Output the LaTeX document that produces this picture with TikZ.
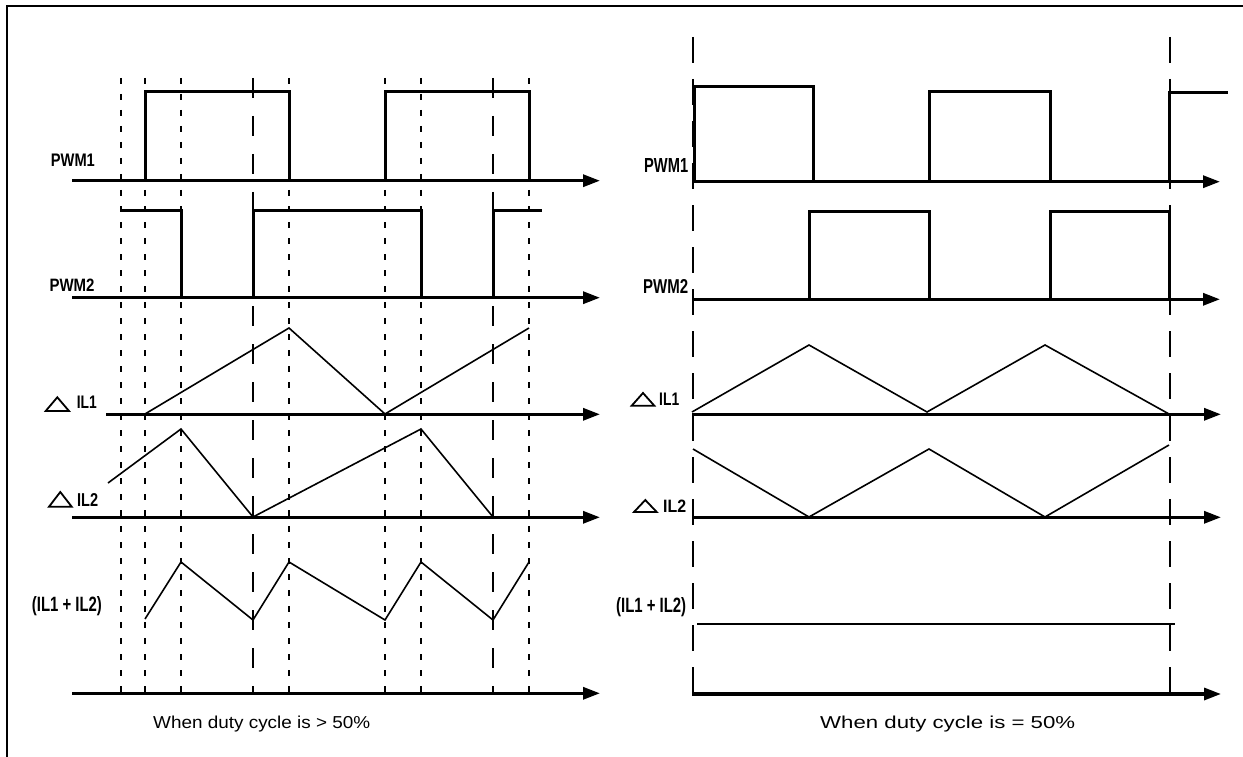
\documentclass[tikz,border=0pt]{standalone}
\usepackage{fontspec}
\setmainfont{Liberation Sans}
\usetikzlibrary{arrows.meta}
\begin{document}
\begin{tikzpicture}[x=1pt,y=-1pt,
  axis/.style={line width=3.2pt,-{Triangle[length=17pt,width=12pt]}},
  pulse/.style={line width=3pt,line join=miter},
  wave/.style={line width=1.6pt},
  shortdash/.style={line width=2.6pt,dash pattern=on 6pt off 10pt},
  longdash/.style={line width=2.6pt,dash pattern=on 20pt off 18pt},
  rdash/.style={line width=2pt,dash pattern=on 26pt off 16pt},
  lbl/.style={inner sep=0pt,anchor=base west,font=\bfseries},
  captext/.style={inner sep=0pt,anchor=base west},
  tri/.style={line width=1.8pt,line join=miter}]
\useasboundingbox (0,0) rectangle (1243,757);
% frame
\draw[line width=2.8pt] (7,757) -- (7,6) -- (1243,6);

% ---------------- left panel ----------------
\foreach \x in {121,145,181,289,385,421,529}
  \draw[shortdash] (\x,78) -- (\x,693);
\foreach \x in {253,493}
  \draw[longdash] (\x,78) -- (\x,693);

\coordinate (a1s) at (72,180.7);   \coordinate (a1e) at (600,180.7);
\coordinate (a2s) at (72,297.7);   \coordinate (a2e) at (600,297.7);
\coordinate (a3s) at (106,414.3);  \coordinate (a3e) at (600,414.3);
\coordinate (a4s) at (72,517.3);   \coordinate (a4e) at (600,517.3);
\coordinate (a5s) at (72,693.3);   \coordinate (a5e) at (600,693.3);
\foreach \i in {1,...,5} \draw[axis] (a\i s) -- (a\i e);

% PWM1
\draw[pulse] (145,180.7) -- (145,92) -- (289,92) -- (289,180.7);
\draw[pulse] (385,180.7) -- (385,92) -- (529,92) -- (529,180.7);
% PWM2
\draw[pulse] (121,210) -- (181,210) -- (181,297.7);
\draw[pulse] (253,297.7) -- (253,210) -- (421,210) -- (421,297.7);
\draw[pulse] (493,297.7) -- (493,210) -- (542,210);
% IL1
\draw[wave] (145,414) -- (289,328) -- (385,414) -- (529,328);
% IL2
\draw[wave] (108,483) -- (181,429) -- (253,517) -- (421,429) -- (493,517);
% sum
\draw[wave] (145,619) -- (181,562) -- (253,620) -- (289,562) -- (385,620)
  -- (421,562) -- (493,620) -- (529,562);

% labels left
\node[lbl] (lp1) at (50.7,167) {\resizebox{44pt}{12.5pt}{PWM1}};
\node[lbl] (lp2) at (49.3,291) {\resizebox{45pt}{12.5pt}{PWM2}};
\draw[tri] (45.7,411) -- (69,411) -- (57.3,397.3) -- cycle;
\node[lbl] (li1) at (76.7,408) {\resizebox{20pt}{12.5pt}{IL1}};
\draw[tri] (49,506.7) -- (71.7,506.7) -- (60.3,492) -- cycle;
\node[lbl] (li2) at (77,506) {\resizebox{21pt}{13pt}{IL2}};
\node[lbl] (ls) at (31.7,611) {\resizebox{70pt}{15pt}{(IL1 + IL2)}};
\node[captext] (lc) at (153,728) {\resizebox{217pt}{12.5pt}{When duty cycle is > 50\%}};

% ---------------- right panel ----------------
\draw[rdash] (692.5,37) -- (692.5,695);
\draw[rdash] (1169.5,37) -- (1169.5,695);

\coordinate (b1s) at (692,181.7);  \coordinate (b1e) at (1220,181.7);
\coordinate (b2s) at (692,299.3);  \coordinate (b2e) at (1220,299.3);
\coordinate (b3s) at (692,414.3);  \coordinate (b3e) at (1221,414.3);
\coordinate (b4s) at (692,517.3);  \coordinate (b4e) at (1221,517.3);
\coordinate (b5s) at (692,694);    \coordinate (b5e) at (1221,694);
\foreach \i in {1,...,5} \draw[axis] (b\i s) -- (b\i e);

% PWM1
\draw[pulse] (694,181.7) -- (694,87) -- (813,87) -- (813,181.7);
\draw[pulse] (929,181.7) -- (929,92) -- (1050,92) -- (1050,181.7);
\draw[pulse] (1169,181.7) -- (1169,93) -- (1228,93);
% PWM2
\draw[pulse] (809.7,299.3) -- (809.7,211) -- (929,211) -- (929,299.3);
\draw[pulse] (1050,299.3) -- (1050,211) -- (1169,211) -- (1169,299.3);
% IL1
\draw[wave] (692,412) -- (809,345) -- (927,412) -- (1045,345) -- (1169,414);
% IL2
\draw[wave] (693,449) -- (809,517) -- (929,449) -- (1045,517) -- (1169,445);
% sum
\draw[line width=2.4pt] (697,623.7) -- (1175,623.7);

% labels right
\node[lbl] (rp1) at (644,172) {\resizebox{44pt}{14pt}{PWM1}};
\node[lbl] (rp2) at (643,293) {\resizebox{45pt}{14pt}{PWM2}};
\draw[tri] (631.7,405.7) -- (654.3,405.7) -- (643,393) -- cycle;
\node[lbl] (ri1) at (659,405) {\resizebox{20pt}{12.5pt}{IL1}};
\draw[tri] (634,512) -- (656.7,512) -- (645.3,500) -- cycle;
\node[lbl] (ri2) at (663,512) {\resizebox{23pt}{12.5pt}{IL2}};
\node[lbl] (rs) at (616,612) {\resizebox{70pt}{15pt}{(IL1 + IL2)}};
\node[captext] (rc) at (820,728) {\resizebox{255pt}{12.5pt}{When duty cycle is = 50\%}};
\end{tikzpicture}
\end{document}
